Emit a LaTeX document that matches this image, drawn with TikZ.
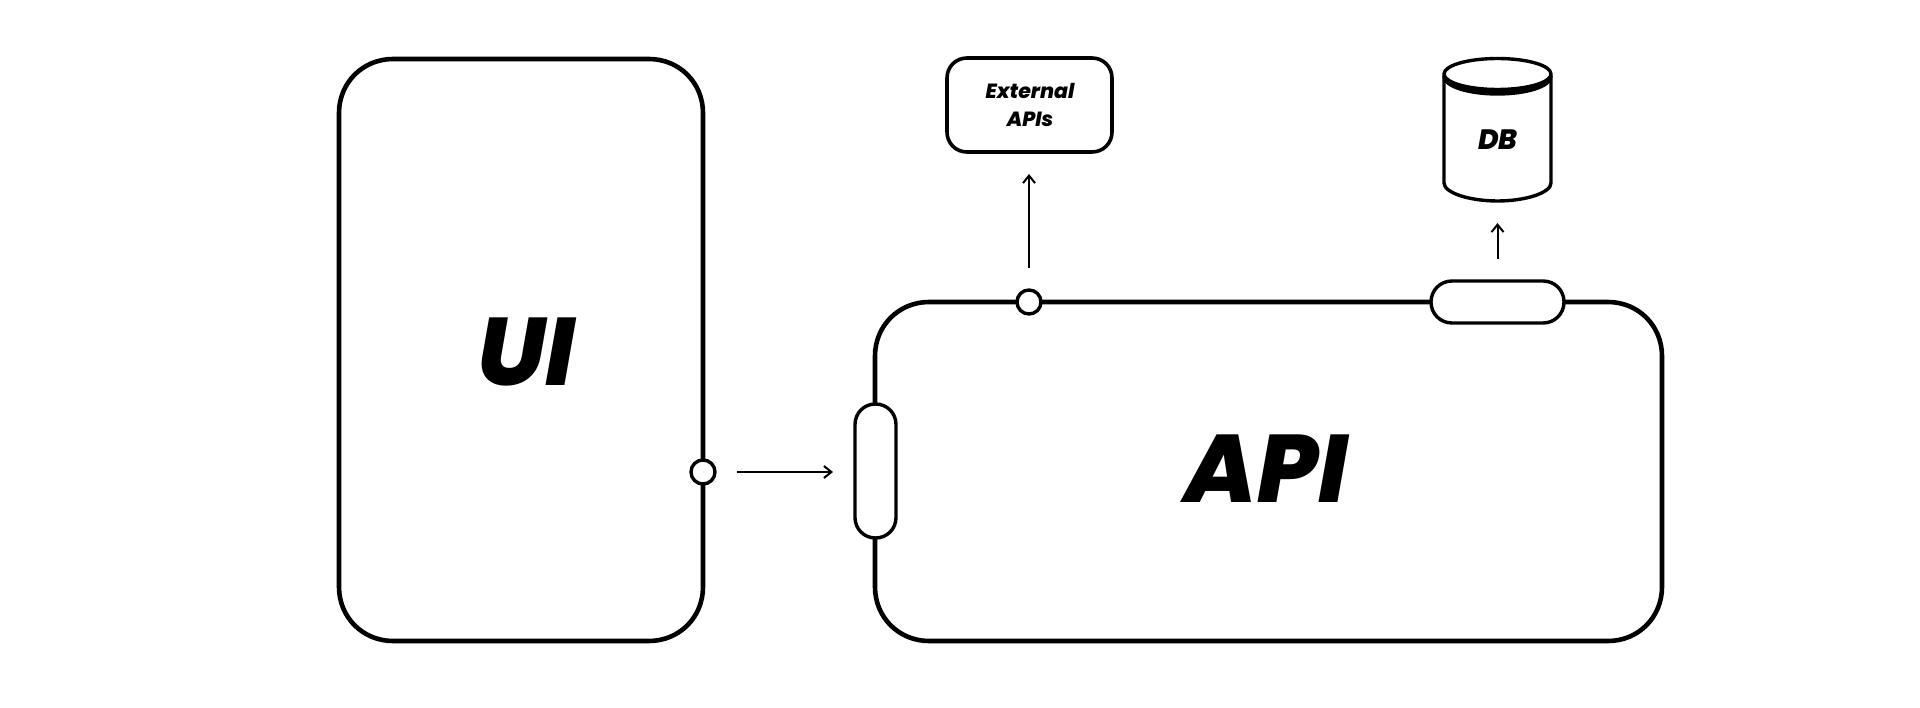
\documentclass[tikz,border=0pt]{standalone}
\usepackage{fontspec}
\usetikzlibrary{arrows.meta}
\newfontfamily\labfont{Poppins}[UprightFont={* ExtraBold Italic}]
\tikzset{
  px/.style={x=1pt,y=-1pt},
  outline/.style={draw=black,line width=#1,fill=white,line join=round},
  portdot/.style={circle,draw=black,fill=white,line width=3.4pt,inner sep=0pt,outer sep=0pt,minimum size=24pt},
  link/.style={draw=black,line width=2pt,shorten <=22pt,shorten >=22pt,-{Straight Barb[length=7.5pt,width=12pt,line width=2pt]}},
  biglabel/.style={font=\labfont\fontsize{96}{96}\selectfont,inner sep=0pt},
  midlabel/.style={font=\labfont\fontsize{28}{28}\selectfont,inner sep=0pt},
  smalllabel/.style={font=\labfont\fontsize{20.5}{28}\selectfont,inner sep=0pt,align=center}
}
% name, left, top, right, bottom, corner reach, line width
\newcommand{\softbox}[7]{%
  \pgfmathsetmacro{\ka}{#6}\pgfmathsetmacro{\kb}{0.44*#6}%
  \path[outline=#7] (#2,#3+\ka)
    .. controls (#2,#3+\kb) and (#2+\kb,#3) .. (#2+\ka,#3) -- (#4-\ka,#3)
    .. controls (#4-\kb,#3) and (#4,#3+\kb) .. (#4,#3+\ka) -- (#4,#5-\ka)
    .. controls (#4,#5-\kb) and (#4-\kb,#5) .. (#4-\ka,#5) -- (#2+\ka,#5)
    .. controls (#2+\kb,#5) and (#2,#5-\kb) .. (#2,#5-\ka) -- cycle;%
  \pgfmathsetmacro{\kw}{#4-#2}\pgfmathsetmacro{\kh}{#5-#3}%
  \pgfmathsetmacro{\kx}{(#2+#4)/2}\pgfmathsetmacro{\ky}{(#3+#5)/2}%
  \node[inner sep=0pt,outer sep=0pt,minimum width=\kw pt,minimum height=\kh pt] (#1) at (\kx,\ky) {};%
}
\begin{document}
\begin{tikzpicture}[px]
\useasboundingbox (0,0) rectangle (1920,708);
\fill[white] (0,0) rectangle (1920,708);

\softbox{ui}{339}{59}{703}{641}{54}{4.6pt}
\softbox{api}{875}{302}{1662}{641}{54}{4.6pt}
\softbox{ext}{947}{58}{1112}{152}{20}{3.6pt}
\softbox{apileft}{855}{404}{896}{538}{20.5}{3.4pt}
\softbox{apitop}{1431}{281}{1564}{323}{21}{3.4pt}

\node[portdot] (uiport) at (703,472) {};
\node[portdot] (apiport) at (1029,302) {};

% database cylinder
\path[outline=3.4pt] (1444,76) -- (1444,183)
  .. controls (1444,193) and (1470,201) .. (1497.5,201)
  .. controls (1525,201) and (1551,193) .. (1551,183) -- (1551,76) -- cycle;
\path[draw=black,fill=black,line width=3.4pt,line join=round] (1551,76)
  .. controls (1551,87) and (1525,94) .. (1497.5,94)
  .. controls (1470,94) and (1444,87) .. (1444,76) -- cycle;
\path[outline=3.4pt] (1497.5,74) ellipse [x radius=53.5pt,y radius=15.5pt];
\node[inner sep=0pt,outer sep=0pt,minimum width=107pt,minimum height=143pt] (db) at (1497.5,129.5) {};

\node[biglabel] (uilabel) at (526,351.5) {UI};
\node[biglabel] (apilabel) at (1266.5,469) {API};
\node[smalllabel] (extlabel) at (1030,105) {External\\APIs};
\node[midlabel] (dblabel) at (1498,139.5) {DB};

\draw[link] (uiport.east) -- (apileft.west |- uiport.east);
\draw[link] (apiport.north) -- (ext.south -| apiport.north);
\draw[link] (apitop.north) -- (db.south);
\end{tikzpicture}
\end{document}
